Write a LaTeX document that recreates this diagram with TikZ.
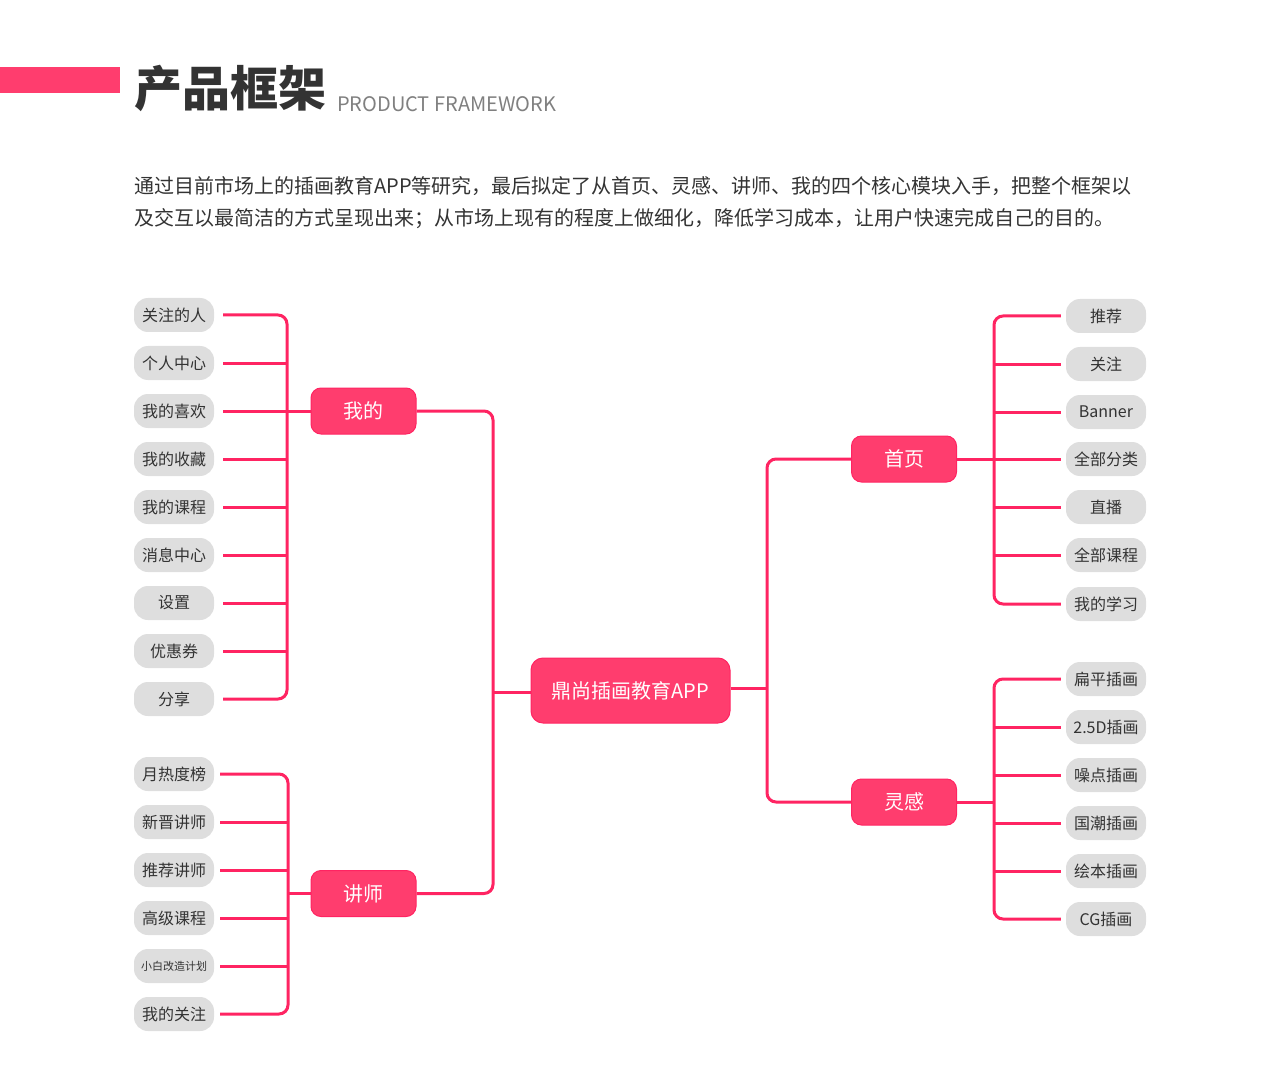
\documentclass[tikz,border=0pt]{standalone}
\usepackage{fontspec}
\setmainfont{Noto Sans CJK SC}
\definecolor{pk}{HTML}{FF3D6E}
\definecolor{pkl}{HTML}{FF2462}
\definecolor{pill}{HTML}{DEDEDE}
\definecolor{txt}{HTML}{333333}
\begin{document}
\begin{tikzpicture}[x=1pt,y=-1pt,
  leaf/.style={draw=none,fill=pill,rounded corners=14pt,minimum width=80pt,minimum height=34pt,inner sep=0pt,text=txt,font=\fontsize{16}{16}\selectfont},
  hub/.style={draw=pkl,line width=1pt,fill=pk,rounded corners=10pt,minimum width=105pt,minimum height=46pt,inner sep=0pt,text=white,font=\fontsize{20}{20}\selectfont},
  conn/.style={draw=pkl,line width=3pt,rounded corners=9pt}]
\useasboundingbox (0,0) rectangle (1280,1067);
\fill[pk] (0,67) rectangle (120,93);
\node[anchor=base west,inner sep=0pt,text=txt,font=\fontsize{48}{48}\selectfont\bfseries] (title) at (134,107) {产品框架};
\node[anchor=base west,inner sep=0pt,text=black!50,font=\fontsize{20}{20}\selectfont] (sub) at (337,112) {PRODUCT FRAMEWORK};
\node[anchor=base west,inner sep=0pt,text=txt,font=\fontsize{20}{20}\selectfont] (p1) at (134,194) {通过目前市场上的插画教育APP等研究，最后拟定了从首页、灵感、讲师、我的四个核心模块入手，把整个框架以};
\node[anchor=base west,inner sep=0pt,text=txt,font=\fontsize{20}{20}\selectfont] (p2) at (134,226) {及交互以最简洁的方式呈现出来；从市场上现有的程度上做细化，降低学习成本，让用户快速完成自己的目的。};

% root and hubs
\node[hub,minimum width=199pt,minimum height=65pt,rounded corners=12pt] (root) at (630.5,690.5) {鼎尚插画教育APP};
\node[hub] (my) at (363.5,411) {我的};
\node[hub] (js) at (363.5,893.5) {讲师};
\node[hub] (sy) at (904,459) {首页};
\node[hub] (lg) at (904,802) {灵感};

% left leaves
\node[leaf] (m1) at (174,315) {关注的人};
\node[leaf] (m2) at (174,363) {个人中心};
\node[leaf] (m3) at (174,411) {我的喜欢};
\node[leaf] (m4) at (174,459) {我的收藏};
\node[leaf] (m5) at (174,507) {我的课程};
\node[leaf] (m6) at (174,555) {消息中心};
\node[leaf] (m7) at (174,603) {设置};
\node[leaf] (m8) at (174,651) {优惠券};
\node[leaf] (m9) at (174,699) {分享};
\node[leaf] (t1) at (174,774) {月热度榜};
\node[leaf] (t2) at (174,822) {新晋讲师};
\node[leaf] (t3) at (174,870) {推荐讲师};
\node[leaf] (t4) at (174,918) {高级课程};
\node[leaf,font=\fontsize{11}{11}\selectfont] (t5) at (174,966) {小白改造计划};
\node[leaf] (t6) at (174,1014) {我的关注};
% right leaves
\node[leaf] (h1) at (1106,316) {推荐};
\node[leaf] (h2) at (1106,364) {关注};
\node[leaf] (h3) at (1106,412) {Banner};
\node[leaf] (h4) at (1106,459) {全部分类};
\node[leaf] (h5) at (1106,507) {直播};
\node[leaf] (h6) at (1106,555) {全部课程};
\node[leaf] (h7) at (1106,604) {我的学习};
\node[leaf] (g1) at (1106,679) {扁平插画};
\node[leaf] (g2) at (1106,727) {2.5D插画};
\node[leaf] (g3) at (1106,775) {噪点插画};
\node[leaf] (g4) at (1106,823) {国潮插画};
\node[leaf] (g5) at (1106,871) {绘本插画};
\node[leaf] (g6) at (1106,919) {CG插画};

\coordinate (bA) at (287,0);
\coordinate (bB) at (288,0);
\coordinate (bC) at (493,0);
\coordinate (bD) at (767,0);
\coordinate (bE) at (994,0);

% 我的 group
\draw[conn] ([xshift=9pt]m1.east) -- (m1 -| bA) -- (m9 -| bA) -- ([xshift=9pt]m9.east);
\foreach \n in {m2,m3,m4,m5,m6,m7,m8} \draw[conn] ([xshift=9pt]\n.east) -- (\n -| bA);
\draw[conn] (m3 -| bA) -- (my.west);
% 讲师 group
\draw[conn] ([xshift=6pt]t1.east) -- (t1 -| bB) -- (t6 -| bB) -- ([xshift=6pt]t6.east);
\foreach \n in {t2,t3,t4,t5} \draw[conn] ([xshift=6pt]\n.east) -- (\n -| bB);
\draw[conn] (js -| bB) -- (js.west);
% left trunk
\draw[conn] (my.east) -- (my -| bC) -- (js -| bC) -- (js.east);
\draw[conn] ([yshift=-1.5pt]root.west -| bC) -- ([yshift=-1.5pt]root.west);
% right trunk
\draw[conn] (sy.west) -- (sy -| bD) -- (lg -| bD) -- (lg.west);
\draw[conn] ([yshift=2.5pt]root.east) -- ([yshift=2.5pt]root.east -| bD);
% 首页 group
\draw[conn] ([xshift=-5pt]h1.west) -- (h1 -| bE) -- (h7 -| bE) -- ([xshift=-5pt]h7.west);
\foreach \n in {h2,h3,h4,h5,h6} \draw[conn] ([xshift=-5pt]\n.west) -- (\n -| bE);
\draw[conn] (sy.east) -- (sy -| bE);
% 灵感 group
\draw[conn] ([xshift=-5pt]g1.west) -- (g1 -| bE) -- (g6 -| bE) -- ([xshift=-5pt]g6.west);
\foreach \n in {g2,g3,g4,g5} \draw[conn] ([xshift=-5pt]\n.west) -- (\n -| bE);
\draw[conn] (lg.east) -- (lg -| bE);
\end{tikzpicture}
\end{document}
